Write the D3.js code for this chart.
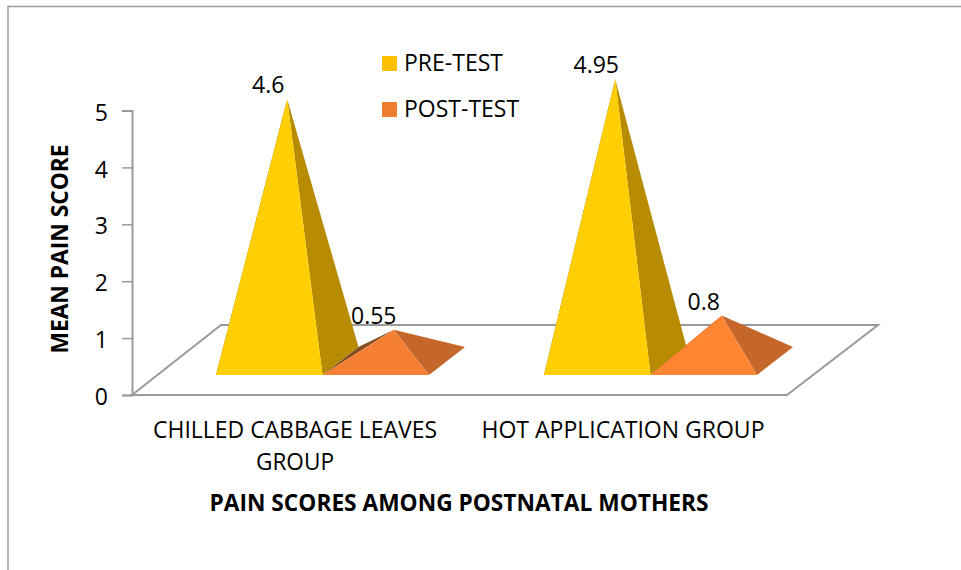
<!DOCTYPE html>
<html><head><meta charset="utf-8">
<script src="https://cdnjs.cloudflare.com/ajax/libs/d3/7.8.5/d3.min.js"></script>
<style>html,body{margin:0;padding:0;background:#fff}svg{display:block}text{font-family:"Open Sans",sans-serif;fill:#000}</style>
</head><body><svg id="c" width="961" height="570"></svg>
<script>
const categories = ["CHILLED CABBAGE LEAVES GROUP", "HOT APPLICATION GROUP"];
const categoryLines = [["CHILLED CABBAGE LEAVES", "GROUP"], ["HOT APPLICATION GROUP"]];
const series = ["PRE-TEST", "POST-TEST"];
const preTest = [4.6, 4.95];
const postTest = [0.55, 0.8];
const yTicks = [0, 1, 2, 3, 4, 5];
const yTitle = "MEAN PAIN SCORE";
const xTitle = "PAIN SCORES AMONG POSTNATAL MOTHERS";

const svg = d3.select("#c");
const y = d3.scaleLinear().domain([0, 5]).range([395, 110.5]);
const groupStarts = new Map([[categories[0], 216], [categories[1], 544]]);
const x1 = d3.scaleBand().domain(series).range([0, 213]);
const floor = { x0: 132, x1: 787, y0: 395, dx: 90, dy: -70 };
const depth = { dx: 36, dy: -28, front: 375 };

// frame
svg.append("path").attr("d", "M8,570V6.5H961").attr("fill", "none").attr("stroke", "#999").attr("stroke-width", 1.5);

// floor
svg.append("path")
  .attr("d", d3.line()([[floor.x0, floor.y0], [floor.x0 + floor.dx-1, floor.y0 + floor.dy], [floor.x1 + floor.dx+1, floor.y0 + floor.dy], [floor.x1, floor.y0]]) + "Z")
  .attr("fill", "#fff").attr("stroke", "#9a9a9a").attr("stroke-width", 2);

// value axis
const axis = d3.axisLeft(y).tickValues(yTicks).tickFormat(d3.format("d")).tickSize(10).tickPadding(14);
const ag = svg.append("g").attr("transform", "translate(132,0)").call(axis);
ag.selectAll("path,line").attr("stroke", "#9a9a9a");
ag.select("path").attr("stroke-width", 2);
ag.selectAll("line").attr("stroke-width", 1.5);
ag.selectAll("text").attr("font-size", 23).attr("dy", "0.42em").attr("font-family", '"Open Sans",sans-serif').attr("fill", "#000");

const styles = {
  "PRE-TEST": { front: ["#ffcf03", "#ffcf03"], side: "#b88c00", back: "#8a6900", legend: "#ffc000" },
  "POST-TEST": { front: ["#f58033", "#ff8533"], side: "#c5672a", back: "#85501f", legend: "#ed7d31" }
};
const poly = d3.line();
const rows = series.flatMap((s, i) => categories.map((c, j) => ({ s, c, j, v: (i ? postTest : preTest)[j] })));
rows.forEach(d => {
  const st = styles[d.s];
  const l = groupStarts.get(d.c) + x1(d.s);
  const r = l + x1.bandwidth();
  const fy = depth.front;
  const apex = [(l + r) / 2 + depth.dx / 2, y(d.v) - (floor.y0 - (fy + depth.dy / 2))];
  const bl = [l + depth.dx, fy + depth.dy], br = [r + depth.dx, fy + depth.dy];
  const g = svg.append("g");
  g.append("path").attr("d", poly([[l, fy], bl, apex]) + "Z").attr("fill", st.back);
  g.append("path").attr("d", poly([[r, fy], br, apex]) + "Z").attr("fill", st.side);
  g.append("path").attr("d", poly([[l, fy], [r, fy], apex]) + "Z").attr("fill", st.front[d.j]);
  d.apex = apex;
});

// data labels
const labelOffset = { "4.6": [-19, -6], "4.95": [-19, -6], "0.55": [-20, -6], "0.8": [-18, -5] };
rows.forEach(d => {
  const o = labelOffset[String(d.v)];
  svg.append("text").attr("x", d.apex[0] + o[0]).attr("y", d.apex[1] + o[1]).attr("text-anchor", "middle")
    .attr("font-size", 23).text(d.v);
});

// legend
const legendY = d3.scalePoint().domain(series).range([63.5, 109.5]);
series.forEach(s => {
  svg.append("rect").attr("x", 382).attr("y", legendY(s) - 7.5).attr("width", 15).attr("height", 15).attr("fill", styles[s].legend);
  svg.append("text").attr("x", 404).attr("y", legendY(s) + 7.5).attr("font-size", 23).text(s);
});

// category labels
const catWidths = [[284, 78], [283]];
const catCx = [295, 623];
categoryLines.forEach((lines, i) => lines.forEach((t, k) => {
  svg.append("text").attr("x", catCx[i]).attr("y", 438 + k * 32).attr("text-anchor", "middle")
    .attr("font-size", 23).attr("textLength", catWidths[i][k]).attr("lengthAdjust", "spacingAndGlyphs").text(t);
}));

// axis titles
svg.append("text").attr("x", 459).attr("y", 511).attr("text-anchor", "middle").attr("font-size", 23).attr("font-weight", 700)
  .attr("textLength", 499).attr("lengthAdjust", "spacingAndGlyphs").text(xTitle);
svg.append("text").attr("transform", "translate(68,249) rotate(-90)").attr("text-anchor", "middle").attr("font-size", 23).attr("font-weight", 700)
  .attr("textLength", 209).attr("lengthAdjust", "spacingAndGlyphs").text(yTitle);
</script></body></html>
